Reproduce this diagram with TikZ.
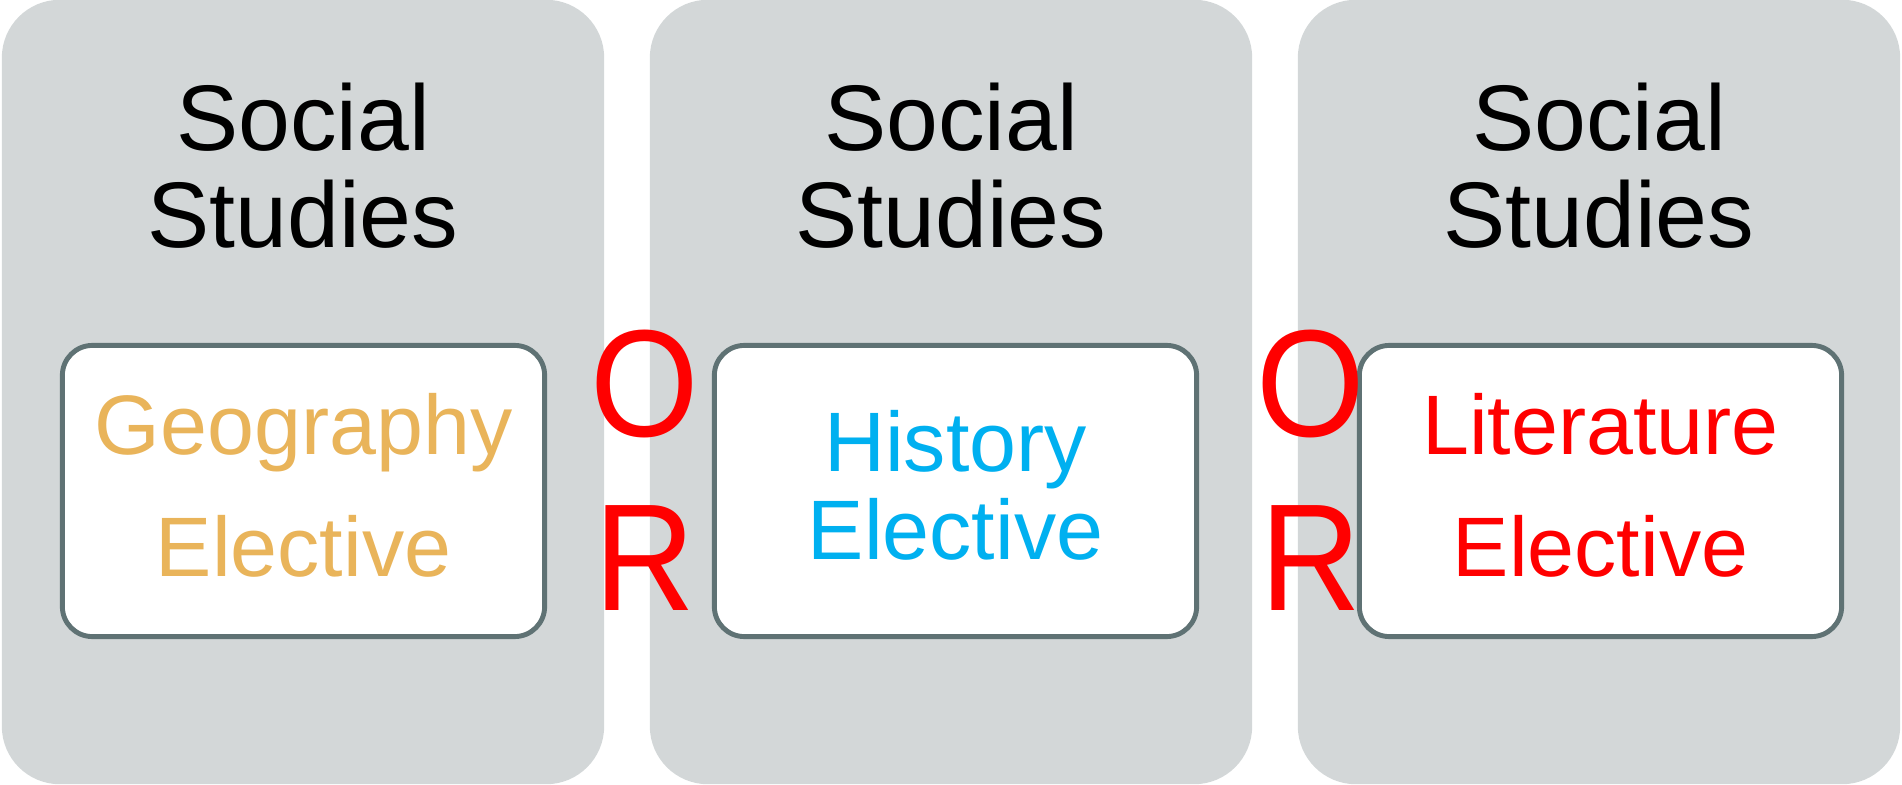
\documentclass[tikz,border=0pt]{standalone}
\usepackage{fontspec}
\usepackage{graphicx}
\setmainfont{Liberation Sans}
\usetikzlibrary{positioning}

\definecolor{panelgray}{HTML}{D3D7D8}
\definecolor{boxedge}{HTML}{5F7274}
\definecolor{geocolor}{HTML}{E9B45A}
\definecolor{histcolor}{HTML}{00B0F0}
\definecolor{litcolor}{HTML}{FF0000}

\newcommand{\tallletter}[1]{\scalebox{0.96}[1.05]{#1}}

\begin{document}
\begin{tikzpicture}[x=0.01cm,y=0.01cm,
  panel/.style={rectangle,rounded corners=0.58cm,fill=panelgray,
    minimum width=6.02cm,minimum height=7.84cm,inner sep=0pt},
  title/.style={align=center,inner sep=0pt,
    font=\fontsize{26.5}{27.6}\selectfont},
  elective/.style={rectangle,rounded corners=0.3cm,draw=boxedge,
    line width=1.4pt,fill=white,minimum width=4.82cm,minimum height=2.91cm,
    align=center,inner sep=0pt,text depth=0.12cm,
    font=\fontsize{24}{34.7}\selectfont},
  ortext/.style={text=red,align=center,inner sep=0pt,
    font=\fontsize{41.3}{49.5}\selectfont}]
\useasboundingbox (0,0) rectangle (1902,784);

% the three columns
\node[panel] (panel1) at (303,392) {};
\node[panel] (panel2) at (951,392) {};
\node[panel] (panel3) at (1599,392) {};

\node[title] (title1) at (303,618) {Social\\Studies};
\node[title] (title2) at (951,618) {Social\\Studies};
\node[title] (title3) at (1599,618) {Social\\Studies};

% electives
\node[elective,text=geocolor] (geo) at (303.5,293) {Geography\\Elective};
\node[elective,text=histcolor,font=\fontsize{24}{25}\selectfont]
  (hist) at (955.5,293) {History\\Elective};
\node[elective,text=litcolor] (lit) at (1600.5,293) {Literature\\Elective};

% OR between columns
\node[ortext] (or1) at (645,314) {\tallletter{O}\\\tallletter{R}};
\node[ortext] (or2) at (1311,314) {\tallletter{O}\\\tallletter{R}};
\end{tikzpicture}
\end{document}
